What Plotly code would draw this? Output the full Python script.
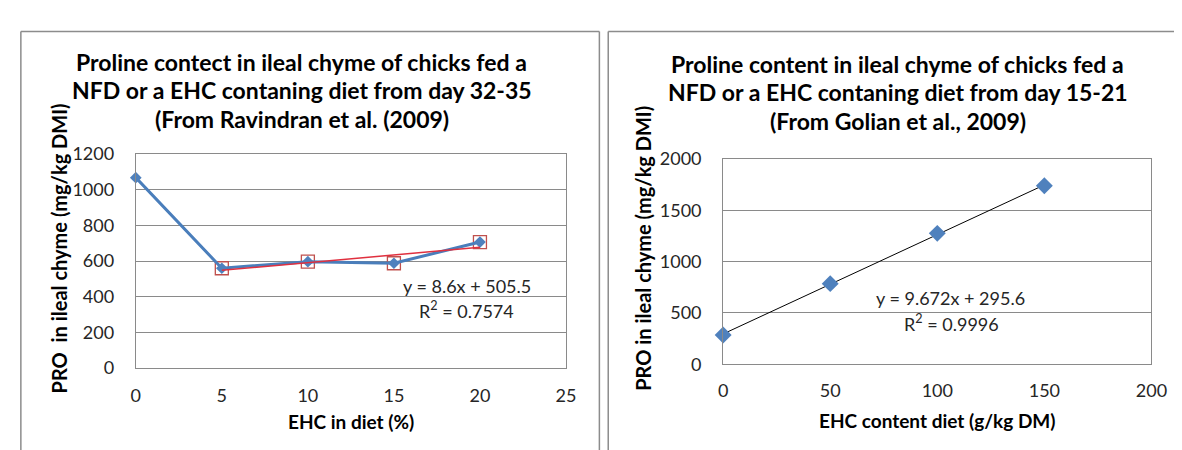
import plotly.graph_objects as go

# ---------------- data ----------------
# Left chart (Ravindran et al., 2009)
left_x = [0, 5, 10, 15, 20]
left_y = [1068, 560, 597, 588, 707]
left_sq_x = [5, 10, 15, 20]
left_sq_y = [560, 597, 588, 707]
left_slope, left_intercept = 8.6, 505.5
left_eq = ["y = 8.6x + 505.5", "R<sup>2</sup> = 0.7574"]
left_title = ["Proline contect in ileal chyme of chicks fed a",
              "NFD or a EHC contaning diet from day 32-35",
              "(From Ravindran et al. (2009)"]
left_xtitle = "EHC in diet (%)"
left_ytitle = "PRO  in ileal chyme (mg/kg DMI)"
left_xticks = [0, 5, 10, 15, 20, 25]
left_yticks = [0, 200, 400, 600, 800, 1000, 1200]

# Right chart (Golian et al., 2009)
right_x = [0, 50, 100, 150]
right_y = [285, 785, 1275, 1738]
right_slope, right_intercept = 9.672, 295.6
right_eq = ["y = 9.672x + 295.6", "R<sup>2</sup> = 0.9996"]
right_title = ["Proline content in ileal chyme of chicks fed a",
               "NFD or a EHC contaning diet from day 15-21",
               "(From Golian et al., 2009)"]
right_xtitle = "EHC content diet (g/kg DM)"
right_ytitle = "PRO in ileal chyme (mg/kg DMI)"
right_xticks = [0, 50, 100, 150, 200]
right_yticks = [0, 500, 1000, 1500, 2000]

# ---------------- layout constants ----------------
W, H = 1182, 450
FONT = "Lato"
GRID = "#8a8a8a"
BLUE_LINE = "#4A7EBB"
BLUE_MK = "#4F81BD"
RED = "#C0504D"
TREND_RED = "#E0303F"
TXT = "#262626"
CLEAR = "rgba(0,0,0,0)"


def px(x):
    return x / W


def py(y):
    return 1 - y / H


fig = go.Figure()

# Left chart traces
fig.add_trace(go.Scatter(x=left_sq_x, y=left_sq_y, mode="markers",
                         marker=dict(symbol="square-open", size=13,
                                     color=RED, line=dict(width=1.3, color=RED)),
                         xaxis="x", yaxis="y", cliponaxis=False, showlegend=False))
fig.add_trace(go.Scatter(x=left_x, y=left_y, mode="lines+markers",
                         line=dict(color=BLUE_LINE, width=3),
                         marker=dict(symbol="diamond", size=9, color=BLUE_MK),
                         xaxis="x", yaxis="y", cliponaxis=False, showlegend=False))
lt_x = [left_sq_x[0], left_sq_x[-1]]
fig.add_trace(go.Scatter(x=lt_x, y=[left_slope * v + left_intercept for v in lt_x],
                         mode="lines", line=dict(color=TREND_RED, width=1.5),
                         xaxis="x", yaxis="y", showlegend=False))

# Right chart traces
rt_x = [right_x[0], right_x[-1]]
fig.add_trace(go.Scatter(x=rt_x, y=[right_slope * v + right_intercept for v in rt_x],
                         mode="lines", line=dict(color="#000000", width=1),
                         xaxis="x2", yaxis="y2", showlegend=False))
fig.add_trace(go.Scatter(x=right_x, y=right_y, mode="markers",
                         marker=dict(symbol="diamond", size=13, color=BLUE_MK),
                         xaxis="x2", yaxis="y2", cliponaxis=False, showlegend=False))

TICKSIZE = 18
axis_common = dict(zeroline=False, showline=True, mirror=True,
                   linecolor=GRID, linewidth=1, ticks="outside", tickcolor=CLEAR,
                   tickfont=dict(family=FONT, size=TICKSIZE, color=TXT), fixedrange=True)

fig.update_layout(
    width=W, height=H,
    margin=dict(l=0, r=0, t=0, b=0),
    paper_bgcolor="white", plot_bgcolor="white",
    xaxis=dict(domain=[px(125), px(563)], range=[0, 25], tickvals=left_xticks,
               anchor="y", showgrid=False, ticklen=11, **axis_common),
    yaxis=dict(domain=[py(366), py(141)], range=[0, 1200], tickvals=left_yticks,
               anchor="x", showgrid=True, gridcolor=GRID, gridwidth=1,
               ticklen=17, **axis_common),
    xaxis2=dict(domain=[px(723), px(1159)], range=[0, 200], tickvals=right_xticks,
                anchor="y2", showgrid=False, ticklen=10, **axis_common),
    yaxis2=dict(domain=[py(362), py(146)], range=[0, 2000], tickvals=right_yticks,
                anchor="x2", showgrid=True, gridcolor=GRID, gridwidth=1,
                ticklen=17, **axis_common),
)

shapes = []
border = dict(color="#8c8c8c", width=1.5)
# left chart border (bottom runs off the picture)
shapes.append(dict(type="line", xref="paper", yref="paper", x0=px(8), x1=px(8), y0=py(12), y1=py(460), line=border))
shapes.append(dict(type="line", xref="paper", yref="paper", x0=px(8), x1=px(597), y0=py(12), y1=py(12), line=border))
shapes.append(dict(type="line", xref="paper", yref="paper", x0=px(597), x1=px(597), y0=py(12), y1=py(460), line=border))
# right chart border
shapes.append(dict(type="line", xref="paper", yref="paper", x0=px(606), x1=px(606), y0=py(12), y1=py(460), line=border))
shapes.append(dict(type="line", xref="paper", yref="paper", x0=px(606), x1=px(1190), y0=py(12), y1=py(12), line=border))
fig.update_layout(shapes=shapes)

ann = []


def text(x, y, s, size, bold=False, angle=0):
    ann.append(dict(x=px(x), y=py(y), xref="paper", yref="paper", text=f"<b>{s}</b>" if bold else s,
                    showarrow=False, xanchor="center", yanchor="middle", textangle=angle,
                    font=dict(family=FONT, size=size, color="#000000" if bold else TXT)))


for i, line in enumerate(left_title):
    text(294, 44 + i * 30, line, 23, bold=True)
for i, line in enumerate(right_title):
    text(901, 46 + i * 30, line, 23, bold=True)

text(344, 422, left_xtitle, 19, bold=True)
text(941, 421, right_xtitle, 19, bold=True)
text(47, 240, left_ytitle, 20, bold=True, angle=-90)
text(642, 240, right_ytitle, 20, bold=True, angle=-90)

text(462, 280, left_eq[0], 18)
text(462, 305, left_eq[1], 18)
text(954, 292, right_eq[0], 18)
text(955, 319, right_eq[1], 18)

fig.update_layout(annotations=ann)

fig.write_html("out.html")
